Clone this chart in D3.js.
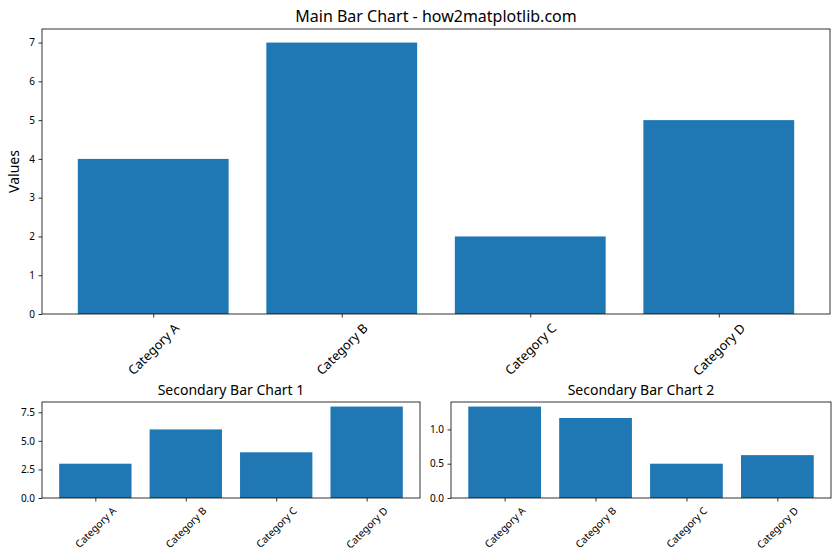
<!DOCTYPE html>
<html><head><meta charset="utf-8">
<script src="https://cdn.jsdelivr.net/npm/d3@7"></script>
<style>body{margin:0;background:#fff}svg{display:block}text{font-family:"Noto Sans","Open Sans",sans-serif;fill:#000}</style>
</head><body>
<svg id="c" width="840" height="560"></svg>
<script>
const categories = ["Category A", "Category B", "Category C", "Category D"];
const mainValues = [4, 7, 2, 5];
const sec1Values = [3, 6, 4, 8];
const sec2Values = [4/3, 7/6, 2/4, 5/8];
const mainTicks = [0, 1, 2, 3, 4, 5, 6, 7];
const sec1Ticks = [0, 2.5, 5.0, 7.5];
const sec2Ticks = [0, 0.5, 1.0];

const svg = d3.select("#c");
const color = "#1f77b4";

function panel(opt) {
  const {x0, x1, y0, y1, values, ticks, fmt, title, titleSize, xFont, yFont, ylabel} = opt;
  const g = svg.append("g");
  const vmax = d3.max(values) * 1.05;
  const y = d3.scaleLinear().domain([0, vmax]).range([y1, y0]);
  // matplotlib bar: width 0.8, margins 5%
  const lo = -0.4 - 0.19, hi = 3.4 + 0.19;
  const x = d3.scaleLinear().domain([lo, hi]).range([x0, x1]);
  g.selectAll("rect").data(values).join("rect")
    .attr("x", (d, i) => x(i - 0.4)).attr("width", (d, i) => x(i + 0.4) - x(i - 0.4))
    .attr("y", d => y(d)).attr("height", d => y(0) - y(d)).attr("fill", color);
  // y axis
  const ya = d3.axisLeft(y).tickValues(ticks).tickFormat(fmt).tickSize(3.5).tickPadding(3.5);
  const yg = g.append("g").attr("transform", `translate(${x0},0)`).call(ya);
  yg.select(".domain").remove();
  yg.selectAll("line").attr("stroke", "#000").attr("stroke-width", 0.8);
  yg.selectAll("text").style("font-size", yFont + "px").attr("fill", "#000").style("font-family", '"Noto Sans",sans-serif');
  // x axis ticks
  const xa = d3.axisBottom(x).tickValues([0, 1, 2, 3]).tickFormat("").tickSize(3.5);
  const xg = g.append("g").attr("transform", `translate(0,${y1})`).call(xa);
  xg.select(".domain").remove();
  xg.selectAll("line").attr("stroke", "#000").attr("stroke-width", 0.8);
  // rotated labels
  const top = y1 + 7;
  categories.forEach((c, i) => {
    const t = g.append("text").text(c).style("font-size", xFont + "px")
      .attr("text-anchor", "middle").attr("dominant-baseline", "central");
    const w = t.node().getComputedTextLength();
    const h = xFont * 1.0;
    const cy = top + (w + h) / (2 * Math.SQRT2);
    t.attr("transform", `translate(${x(i)},${cy}) rotate(-45)`);
  });
  // frame
  g.append("rect").attr("x", x0).attr("y", y0).attr("width", x1 - x0).attr("height", y1 - y0)
    .attr("fill", "none").attr("stroke", "#000").attr("stroke-width", 0.8);
  // title
  g.append("text").attr("x", (x0 + x1) / 2).attr("y", y0 - 7).attr("text-anchor", "middle")
    .style("font-size", titleSize + "px").text(title);
  if (ylabel) {
    g.append("text").attr("transform", `translate(${x0 - 23},${(y0 + y1) / 2}) rotate(-90)`)
      .attr("text-anchor", "middle").style("font-size", "14px").text(ylabel);
  }
}

panel({x0: 42, x1: 830, y0: 29, y1: 314, values: mainValues, ticks: mainTicks, fmt: d3.format("d"),
  title: "Main Bar Chart - how2matplotlib.com", titleSize: 16, xFont: 12.8, yFont: 10, ylabel: "Values"});
panel({x0: 42, x1: 420, y0: 402, y1: 498, values: sec1Values, ticks: sec1Ticks, fmt: d3.format(".1f"),
  title: "Secondary Bar Chart 1", titleSize: 14, xFont: 10.2, yFont: 10});
panel({x0: 451, x1: 831, y0: 402, y1: 498, values: sec2Values, ticks: sec2Ticks, fmt: d3.format(".1f"),
  title: "Secondary Bar Chart 2", titleSize: 14, xFont: 10.2, yFont: 10});
</script>
</body></html>
